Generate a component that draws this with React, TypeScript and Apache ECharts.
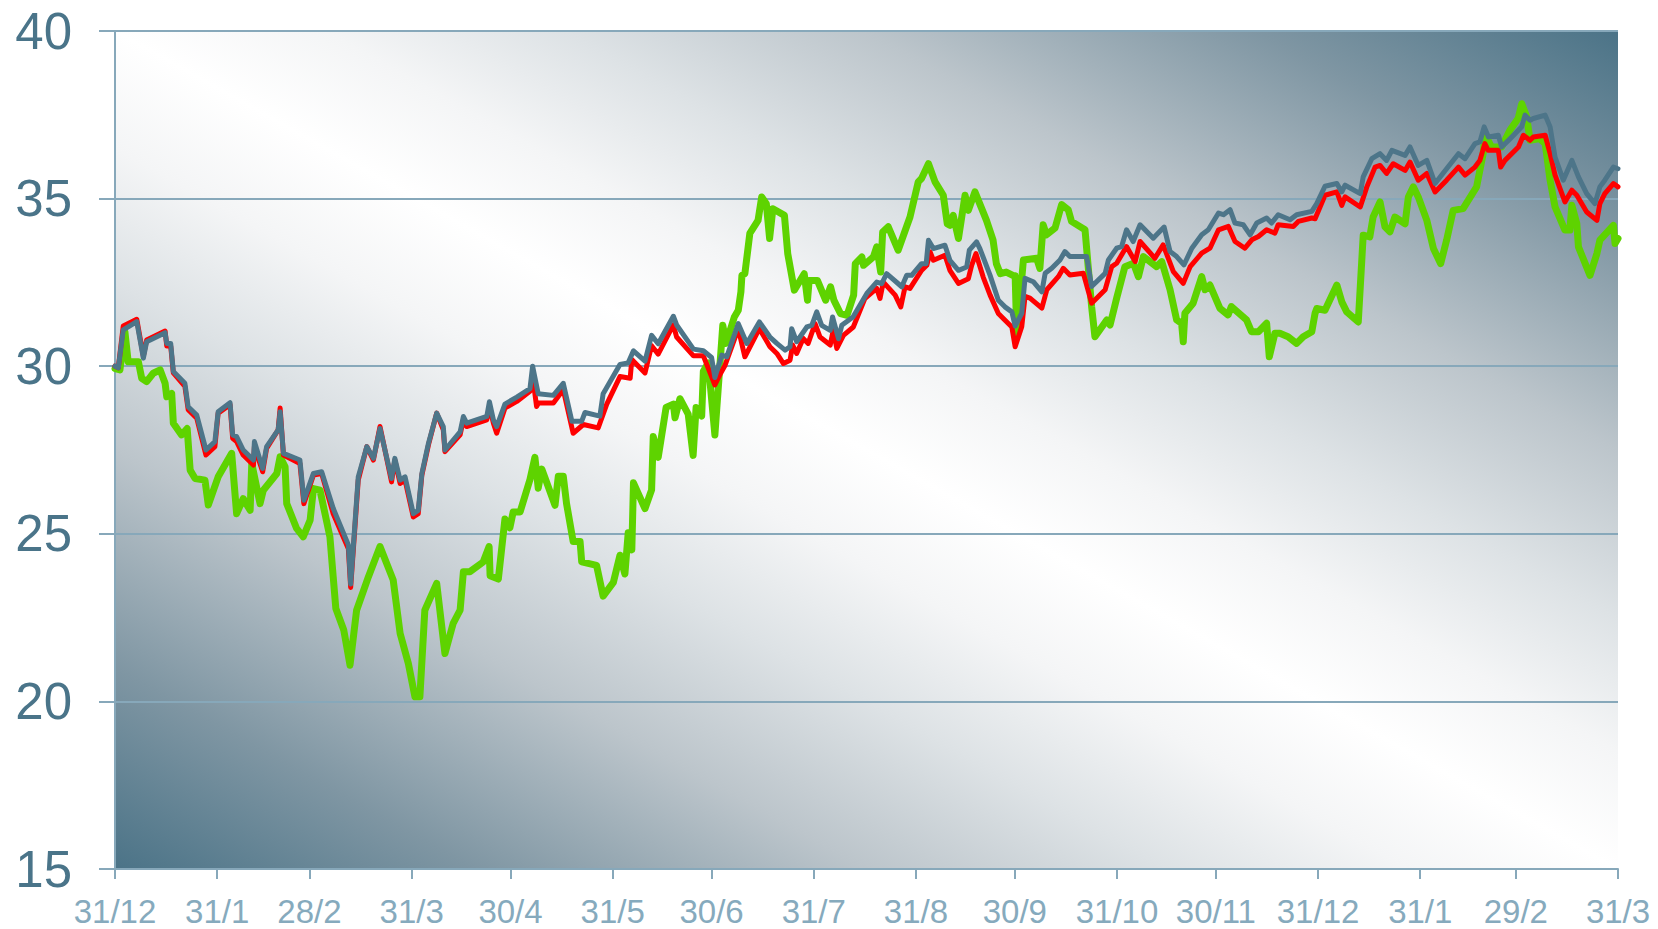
import React, { useEffect, useRef } from 'react';
import * as echarts from 'echarts';

// Days counted from the first 31/12; month-end tick positions
const monthEndDays = [0, 31, 59, 90, 120, 151, 181, 212, 243, 273, 304, 334, 365, 396, 425, 456];
const monthLabels = ['31/12', '31/1', '28/2', '31/3', '30/4', '31/5', '30/6', '31/7', '31/8', '30/9', '31/10', '30/11', '31/12', '31/1', '29/2', '31/3'];
const yTicks = [15, 20, 25, 30, 35, 40];

const greenSeries: [number, number][] = [
  [0, 29.93], [1.5, 29.89], [3, 31.03], [4, 30.13], [7.1, 30.13], [8.1, 29.64], [9.6, 29.54], [11.6, 29.79], [13.7, 29.89],
  [15.2, 29.49], [15.7, 29.09], [17.2, 29.19], [17.7, 28.3], [20.2, 27.95], [21.9, 28.14], [22.8, 26.9], [24.3, 26.65],
  [27.3, 26.6], [28.3, 25.86], [31.3, 26.7], [35.4, 27.4], [36.9, 25.6], [38.9, 26.05], [41, 25.7], [41.5, 27.1], [44, 25.9],
  [45, 26.3], [49.1, 26.8], [50.1, 27.3], [51.6, 27.0], [52.1, 25.9], [55.1, 25.16], [57.1, 24.91], [59.2, 25.41],
  [60.2, 26.35], [62.2, 26.3], [65.2, 24.91], [66.2, 23.72], [67, 22.77], [69.4, 22.13], [71.3, 21.08], [73.3, 22.72],
  [76.9, 23.72], [80.4, 24.62], [84.4, 23.62], [86.5, 22.03], [89, 21.13], [91, 20.14], [92.5, 20.14], [94, 22.72],
  [97.6, 23.52], [100.1, 21.43], [102.6, 22.33], [104.7, 22.72], [105.7, 23.87], [107.7, 23.87], [111.7, 24.16],
  [113.5, 24.62], [113.8, 23.75], [116.3, 23.65], [118.3, 25.44], [119.8, 25.18], [120.8, 25.65], [122.9, 25.65],
  [125.9, 26.62], [127.4, 27.28], [128.4, 26.36], [129.5, 26.93], [133.5, 25.85], [134.5, 26.72], [136.0, 26.72],
  [137.0, 25.9], [139.0, 24.77], [141.1, 24.77], [141.6, 24.16], [146.1, 24.06], [148.1, 23.14], [151.2, 23.55],
  [153.2, 24.36], [154.7, 23.8], [155.7, 25.03], [156.8, 24.52], [157.3, 26.52], [160.8, 25.75], [162.8, 26.31],
  [163.3, 27.9], [164.8, 27.28], [167.2, 28.77], [169.4, 28.87], [169.9, 28.46], [171.4, 29.03], [173.9, 28.57],
  [175.4, 27.34], [176.3, 28.77], [178.0, 28.51], [178.5, 29.85], [180.0, 30.1], [182.0, 27.95], [184.4, 31.22],
  [185.4, 30.68], [187.9, 31.47], [189.1, 31.67], [189.9, 32.22], [190.2, 32.71], [191.1, 32.76], [192.6, 33.96],
  [195.1, 34.35], [196.2, 35.05], [197.6, 34.85], [198.6, 33.81], [199.6, 34.7], [203.1, 34.5], [204.1, 33.36],
  [206.1, 32.27], [209.1, 32.76], [210.1, 31.97], [210.6, 32.56], [213.1, 32.56], [215.6, 31.97], [217.1, 32.37],
  [218.1, 31.97], [220.1, 31.57], [222.1, 31.52], [224.1, 32.12], [224.6, 33.06], [226.6, 33.26], [227.1, 33.01],
  [230.1, 33.26], [231.1, 33.56], [232.3, 32.81], [232.9, 34.0], [234.6, 34.16], [237.6, 33.46], [241.2, 34.45],
  [243.7, 35.5], [244.7, 35.6], [246.8, 36.04], [248.8, 35.5], [251.3, 35.1], [252.5, 34.25], [253.3, 34.2],
  [254.3, 34.5], [255.9, 33.81], [257.9, 35.1], [258.9, 34.65], [260.9, 35.2], [264.4, 34.35], [266.4, 33.76],
  [267.4, 33.06], [268.6, 32.76], [270.4, 32.81], [272.4, 32.71], [273.1, 32.7], [273.6, 30.9], [275.6, 33.17],
  [279.6, 33.22], [280.6, 32.92], [281.6, 34.22], [282.6, 33.92], [285.2, 34.12], [287.2, 34.82], [289.2, 34.67],
  [290.2, 34.32], [294.3, 34.07], [296.3, 31.78], [297.3, 30.88], [300.9, 31.38], [301.9, 31.23], [303.9, 32.03],
  [306.4, 32.97], [309.0, 33.07], [310.5, 32.67], [312.0, 33.27], [316.0, 32.97], [317.6, 33.12], [320.1, 32.28],
  [322.1, 31.38], [323.6, 31.28], [324.1, 30.73], [324.6, 31.58], [327.1, 31.88], [329.7, 32.67], [330.7, 32.28],
  [332.2, 32.42], [335.2, 31.73], [337.7, 31.53], [338.7, 31.78], [343.3, 31.38], [344.8, 31.03], [346.9, 31.03],
  [349.4, 31.28], [350.2, 30.28], [351.9, 30.98], [353.4, 30.98], [355.9, 30.88], [358.5, 30.68], [360.5, 30.88],
  [363.1, 31.03], [364.1, 31.58], [364.6, 31.72], [367.1, 31.67], [370.7, 32.42], [372.2, 31.92], [373.7, 31.62],
  [377.2, 31.32], [378.7, 33.91], [380.7, 33.86], [381.7, 34.45], [383.8, 34.9], [385.3, 34.16], [386.8, 34.01],
  [388.3, 34.45], [391.4, 34.25], [392.4, 35.05], [393.9, 35.35], [395.4, 35.05], [398.0, 34.35], [400.0, 33.51],
  [402.2, 33.06], [404.0, 33.76], [406.0, 34.65], [409.0, 34.7], [413.1, 35.35], [415.1, 36.34], [415.6, 36.94],
  [417.6, 36.54], [420.7, 36.54], [423.2, 37.04], [425.7, 37.39], [426.8, 37.83], [428.3, 37.44], [429.3, 36.74],
  [432.3, 36.79], [433.9, 36.64], [435.4, 35.55], [436.9, 34.75], [439.9, 34.06], [441.4, 34.06], [442.0, 34.8],
  [443.5, 34.26], [444.0, 33.56], [447.5, 32.71], [449.6, 33.36], [450.5, 33.76], [454.6, 34.2], [455.1, 33.66],
  [456, 33.81],
];

const redSeries: [number, number][] = [
  [0, 30.0], [1, 29.95], [2.5, 31.2], [6.6, 31.4], [8.6, 30.3], [9.6, 30.78], [15.2, 31.05], [15.7, 30.6], [16.9, 30.6],
  [17.7, 29.8], [21.2, 29.4], [22.2, 28.7], [24.8, 28.45], [27.6, 27.35], [30.3, 27.6], [31.3, 28.6], [34.9, 28.85],
  [35.7, 27.85], [36.9, 27.75], [38.9, 27.35], [42, 27.05], [42.3, 27.6], [44.8, 26.85], [46, 27.55], [49.5, 28.1],
  [50.1, 28.75], [51.1, 27.35], [56.1, 27.1], [57.3, 25.9], [60.2, 26.75], [62.7, 26.8], [66.2, 25.6], [70.8, 24.55],
  [71.5, 23.4], [73.8, 26.6], [76.4, 27.6], [78.4, 27.2], [80.4, 28.2], [83.9, 26.55], [84.9, 27.2], [86.5, 26.5],
  [88, 26.6], [90.5, 25.5], [92, 25.6], [93.1, 26.75], [95.1, 27.65], [97.6, 28.6], [99.6, 28.1], [100.1, 27.45],
  [104.7, 27.95], [105.7, 28.4], [106.7, 28.2], [112.8, 28.4], [113.6, 28.8], [114.8, 28.3], [115.8, 28.0],
  [118.3, 28.75], [121.9, 28.95], [125.9, 29.25], [126.7, 29.7], [127.9, 28.8], [128.5, 28.9], [133.0, 28.9],
  [136.0, 29.3], [139.0, 28.0], [142.1, 28.26], [146.6, 28.16], [149.2, 28.87], [153.2, 29.69], [156.3, 29.64],
  [156.8, 30.2], [160.8, 29.8], [162.8, 30.61], [164.8, 30.36], [169.4, 31.23], [170.4, 30.87], [175.5, 30.31],
  [178.5, 30.31], [182.0, 29.44], [183.5, 29.74], [185.1, 30.03], [189.1, 31.12], [191.1, 30.28], [195.5, 31.12],
  [198.7, 30.58], [200.8, 30.38], [202.8, 30.08], [204.8, 30.18], [205.6, 30.63], [206.8, 30.38], [208.8, 30.83],
  [210.3, 30.68], [212.4, 31.27], [213.9, 30.87], [217.0, 30.63], [217.9, 31.07], [219.0, 30.53], [221.0, 30.92],
  [224.0, 31.17], [227.5, 32.02], [231.1, 32.32], [232.1, 32.02], [233.1, 32.51], [236.7, 32.12], [238.4, 31.77],
  [239.7, 32.37], [241.2, 32.32], [244.7, 32.86], [246.3, 33.01], [247.3, 33.41], [248.3, 33.16], [251.8, 33.31],
  [253.3, 32.86], [255.9, 32.47], [258.9, 32.61], [259.9, 33.01], [261.2, 33.36], [263.4, 32.66], [265.5, 32.12],
  [268.0, 31.57], [269.5, 31.42], [272.1, 31.17], [273.1, 30.58], [275.1, 31.18], [276.1, 32.08], [277.6, 32.03],
  [281.2, 31.73], [282.7, 32.28], [286.2, 32.67], [287.7, 32.92], [289.7, 32.72], [293.8, 32.77], [296.3, 31.88],
  [300.4, 32.28], [302.4, 32.97], [303.9, 33.07], [306.9, 33.57], [309.5, 33.12], [311.0, 33.72], [315.5, 33.22],
  [318.0, 33.62], [321.1, 32.82], [324.1, 32.47], [326.2, 32.97], [329.7, 33.37], [332.2, 33.52], [334.8, 34.07],
  [337.8, 34.17], [339.8, 33.72], [342.8, 33.52], [344.9, 33.77], [346.9, 33.87], [349.4, 34.07], [351.9, 33.97],
  [352.9, 34.22], [357.5, 34.17], [359.0, 34.32], [363.1, 34.42], [364.1, 34.4], [367.1, 35.1], [370.7, 35.2],
  [372.2, 34.8], [373.2, 35.05], [377.8, 34.75], [379.8, 35.35], [382.3, 35.94], [383.8, 35.99], [385.8, 35.75],
  [387.8, 36.04], [391.4, 35.84], [392.9, 36.09], [395.4, 35.55], [398.0, 35.75], [400.5, 35.2], [404.0, 35.55],
  [407.6, 35.94], [409.6, 35.7], [412.6, 35.94], [414.1, 36.14], [415.6, 36.64], [416.6, 36.44], [419.7, 36.44],
  [420.4, 35.94], [421.7, 36.14], [425.8, 36.54], [427.3, 36.89], [429.3, 36.74], [430.3, 36.84], [433.9, 36.89],
  [435.4, 36.34], [436.9, 35.7], [439.9, 34.9], [442.0, 35.25], [443.5, 35.1], [446.5, 34.6], [449.6, 34.35],
  [450.5, 34.85], [452.0, 35.15], [454.6, 35.45], [456, 35.35],
];

const slateSeries: [number, number][] = [
  [0, 30.0], [1, 29.95], [2.5, 31.08], [6.6, 31.33], [8.6, 30.24], [9.6, 30.73], [15.2, 31.0], [15.7, 30.68], [16.9, 30.68],
  [17.7, 29.84], [21.2, 29.49], [22.2, 28.79], [24.8, 28.54], [27.6, 27.5], [30.3, 27.75], [31.3, 28.64], [34.9, 28.91],
  [35.7, 27.95], [36.9, 27.9], [38.9, 27.5], [42.0, 27.2], [42.3, 27.75], [44.8, 26.95], [46.0, 27.6], [49.5, 28.1],
  [50.1, 28.64], [51.1, 27.4], [56.1, 27.2], [57.3, 26.0], [60.2, 26.8], [62.7, 26.85], [66.2, 25.76], [70.8, 24.67],
  [71.5, 23.5], [73.8, 26.7], [76.4, 27.6], [78.4, 27.25], [80.4, 28.14], [83.9, 26.65], [84.9, 27.25], [86.5, 26.6],
  [88.0, 26.7], [90.5, 25.6], [92.0, 25.7], [93.1, 26.8], [95.1, 27.7], [97.6, 28.6], [99.6, 28.2], [100.1, 27.5],
  [104.7, 28.04], [105.7, 28.5], [106.7, 28.3], [112.8, 28.5], [113.6, 28.94], [114.8, 28.4], [115.8, 28.2],
  [118.3, 28.87], [121.9, 29.08], [125.9, 29.33], [126.7, 30.0], [128.4, 29.18], [133.0, 29.13], [136.0, 29.49],
  [138.6, 28.36], [141.6, 28.36], [142.6, 28.62], [147.1, 28.51], [148.1, 29.18], [153.2, 30.05], [155.7, 30.1],
  [157.3, 30.46], [160.8, 30.15], [162.8, 30.92], [164.8, 30.67], [169.4, 31.49], [170.4, 31.23], [175.5, 30.51],
  [178.5, 30.46], [181.0, 30.26], [182.0, 29.66], [184.1, 30.33], [185.6, 30.28], [189.1, 31.27], [191.7, 30.68],
  [195.5, 31.32], [198.7, 30.87], [200.8, 30.68], [203.3, 30.48], [204.8, 30.58], [205.3, 31.12], [206.8, 30.73],
  [209.9, 31.17], [211.4, 31.22], [212.9, 31.62], [214.4, 31.22], [217.0, 31.07], [217.7, 31.47], [219.5, 30.82],
  [220.5, 31.22], [223.9, 31.47], [228.1, 32.17], [231.1, 32.51], [232.6, 32.46], [234.1, 32.76], [238.7, 32.37],
  [240.2, 32.71], [241.7, 32.71], [244.7, 33.06], [246.1, 33.06], [246.8, 33.76], [248.3, 33.51], [251.8, 33.61],
  [253.3, 33.16], [255.9, 32.86], [258.4, 32.96], [259.2, 33.46], [261.4, 33.71], [262.4, 33.51], [265.5, 32.71],
  [268.0, 31.97], [270.0, 31.77], [272.1, 31.62], [273.1, 31.2], [275.1, 31.58], [276.1, 32.62], [278.6, 32.52],
  [281.2, 32.22], [282.2, 32.77], [284.2, 32.92], [286.7, 33.17], [288.2, 33.42], [289.7, 33.27], [294.8, 33.27],
  [296.3, 32.38], [300.4, 32.77], [301.4, 33.17], [303.9, 33.52], [305.4, 33.57], [306.9, 34.07], [308.9, 33.72],
  [311.0, 34.22], [315.0, 33.82], [316.0, 33.92], [318.3, 34.15], [320.1, 33.42], [322.1, 33.27], [324.3, 33.02],
  [326.7, 33.52], [329.7, 33.92], [331.7, 34.07], [334.8, 34.57], [336.3, 34.52], [338.3, 34.67], [339.8, 34.27],
  [342.3, 34.22], [344.4, 33.92], [346.4, 34.27], [349.4, 34.42], [350.9, 34.27], [352.9, 34.52], [356.5, 34.37],
  [358.5, 34.52], [363.1, 34.62], [364.6, 34.85], [367.1, 35.37], [370.7, 35.45], [372.2, 35.2], [373.2, 35.4],
  [377.8, 35.15], [378.7, 35.65], [381.3, 36.19], [383.8, 36.34], [385.8, 36.14], [387.4, 36.44], [391.4, 36.29],
  [392.9, 36.54], [395.4, 35.99], [398.0, 36.14], [400.5, 35.45], [404.0, 35.89], [407.6, 36.34], [409.6, 36.19],
  [412.6, 36.64], [414.1, 36.69], [415.4, 37.14], [416.7, 36.84], [419.7, 36.89], [420.7, 36.54], [423.3, 36.79],
  [426.8, 37.14], [427.8, 37.49], [429.3, 37.34], [430.3, 37.39], [433.9, 37.49], [435.4, 37.14], [436.9, 36.24],
  [439.4, 35.55], [442.0, 36.14], [444.0, 35.65], [446.5, 35.15], [449.0, 34.85], [450.5, 35.35], [452.0, 35.55],
  [454.6, 35.94], [456, 35.89],
];

const FONT = '"Liberation Sans", Arial, Helvetica, sans-serif';
const AXIS_COLOR = '#87a8ba';

// Plot rectangle in page pixels (chart div sits at the page origin)
const PLOT = { left: 115, top: 31, right: 1618, bottom: 869 };
const W = 1658;
const H = 929;

export default function App() {
  const ref = useRef<HTMLDivElement>(null);

  useEffect(() => {
    if (!ref.current) return;
    const chart = echarts.init(ref.current, null, { renderer: 'svg' });

    // Gradient whose iso-lines run parallel to the plot's top-left -> bottom-right diagonal
    const pw = PLOT.right - PLOT.left;
    const ph = PLOT.bottom - PLOT.top;
    const cx = (PLOT.left + PLOT.right) / 2;
    const cy = (PLOT.top + PLOT.bottom) / 2;
    const len = Math.hypot(pw, ph);
    const ux = ph / len;
    const uy = -pw / len;
    const half = Math.abs((PLOT.left - cx) * ux + (PLOT.bottom - cy) * uy);
    const bg = new echarts.graphic.LinearGradient(
      cx - half * ux,
      cy - half * uy,
      cx + half * ux,
      cy + half * uy,
      [
        { offset: 0, color: '#4b7387' },
        { offset: 0.12, color: '#7f96a3' },
        { offset: 0.25, color: '#bcc5cb' },
        { offset: 0.35, color: '#dde2e5' },
        { offset: 0.43, color: '#f4f5f6' },
        { offset: 0.5, color: '#ffffff' },
        { offset: 0.57, color: '#f4f5f6' },
        { offset: 0.65, color: '#dde2e5' },
        { offset: 0.75, color: '#bcc5cb' },
        { offset: 0.88, color: '#7f96a3' },
        { offset: 1, color: '#4b7387' },
      ],
      true
    );

    const lineSeries = (data: [number, number][], color: string, width: number, z: number) => ({
      type: 'line',
      data,
      showSymbol: false,
      symbol: 'none',
      z,
      lineStyle: { color, width, join: 'round', cap: 'round' },
    });

    chart.setOption({
      animation: false,
      backgroundColor: '#ffffff',
      grid: {
        left: PLOT.left,
        right: W - PLOT.right,
        top: PLOT.top,
        bottom: H - PLOT.bottom,
        show: true,
        borderWidth: 0,
        backgroundColor: bg,
      },
      xAxis: {
        type: 'value',
        min: monthEndDays[0],
        max: monthEndDays[monthEndDays.length - 1],
        axisLine: { show: true, onZero: false, lineStyle: { color: AXIS_COLOR, width: 2 } },
        axisTick: {
          show: true,
          length: 10,
          customValues: monthEndDays,
          lineStyle: { color: AXIS_COLOR, width: 2 },
        },
        axisLabel: {
          customValues: monthEndDays,
          formatter: (v: number) => {
            const i = monthEndDays.indexOf(Math.round(v));
            return i >= 0 ? monthLabels[i] : '';
          },
          fontSize: 33,
          lineHeight: 33,
          fontFamily: FONT,
          color: '#86aabd',
          margin: 26,
        },
        splitLine: { show: false },
      },
      yAxis: {
        type: 'value',
        min: yTicks[0],
        max: yTicks[yTicks.length - 1],
        interval: 5,
        axisLine: { show: true, lineStyle: { color: AXIS_COLOR, width: 2 } },
        axisTick: { show: true, length: 16, lineStyle: { color: AXIS_COLOR, width: 2 } },
        axisLabel: { fontSize: 51, fontFamily: FONT, color: '#4a7489', margin: 43 },
        splitLine: { show: true, lineStyle: { color: AXIS_COLOR, width: 2 } },
      },
      series: [
        lineSeries(greenSeries, '#5ed300', 7, 2),
        lineSeries(redSeries, '#ff0000', 5, 3),
        lineSeries(slateSeries, '#4d7589', 5, 4),
      ],
    });
    return () => chart.dispose();
  }, []);

  return (
    <div
      ref={ref}
      style={{ position: 'fixed', left: 0, top: 0, width: W, height: H, background: '#ffffff' }}
    />
  );
}
